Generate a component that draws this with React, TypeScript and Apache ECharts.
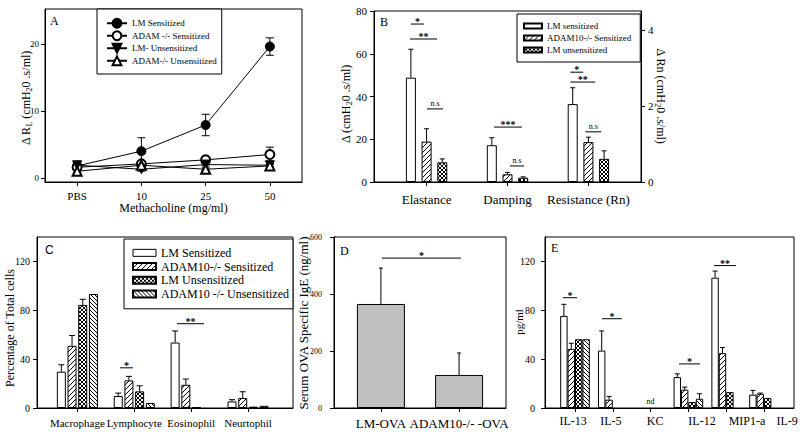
import React, { useEffect, useRef } from 'react';
import * as echarts from 'echarts';

const FONT = 'Liberation Serif';
const INK = '#000';

// ---------- Panel A : airway resistance vs methacholine ----------
const aDoses = ['PBS', '10', '25', '50'];
const aLmSens = [1.8, 4.0, 7.9, 19.6];
const aLmSensErr = [0.3, 2.0, 1.6, 1.3];
const aAdamSens = [1.6, 2.1, 2.7, 3.5];
const aAdamSensErr = [0.2, 0.3, 0.3, 1.1];
const aLmUnsens = [1.9, 1.3, 2.0, 1.9];
const aLmUnsensErr = [0.2, 0.3, 0.2, 0.2];
const aAdamUnsens = [1.0, 1.9, 1.3, 1.8];
const aAdamUnsensErr = [0.2, 0.2, 0.2, 0.2];
const aYTicks = [0, 10, 20];

// ---------- Panel B : lung mechanics ----------
const bMeasures = ['Elastance', 'Damping', 'Resistance (Rn)'];
const bOnRightAxis = [false, false, true];
const bLmSens = [48.8, 17.2, 2.05];
const bLmSensErr = [13.3, 3.5, 0.43];
const bAdamSens = [18.9, 3.6, 1.05];
const bAdamSensErr = [6.0, 0.9, 0.13];
const bLmUnsens = [9.2, 2.0, 0.61];
const bLmUnsensErr = [1.6, 0.4, 0.21];
const bLeftTicks = [0, 20, 40, 60, 80];
const bRightTicks = [0, 2, 4];
const bSigLeft = [
  { x1: -0.193, x2: -0.032, y: 73.9, t: '*' },
  { x1: -0.205, x2: 0.129, y: 66.9, t: '**' },
  { x1: 0.005, x2: 0.203, y: 34.2, t: 'n.s' },
  { x1: 0.833, x2: 1.179, y: 25.7, t: '***' },
  { x1: 1.031, x2: 1.204, y: 7.5, t: 'n.s' },
];
const bSigRight = [
  { x1: 1.776, x2: 1.937, y: 2.89, t: '*' },
  { x1: 1.776, x2: 2.085, y: 2.63, t: '**' },
  { x1: 1.962, x2: 2.16, y: 1.32, t: 'n.s' },
];

// ---------- Panel C : BAL cell differential ----------
const cCells = ['Macrophage', 'Lymphocyte', 'Eosinophil', 'Neurtophil'];
const cLmSens = [29.7, 9.8, 53.6, 5.4];
const cLmSensErr = [5.7, 2.4, 9.5, 1.4];
const cAdamSens = [50.9, 22.6, 19.0, 8.2];
const cAdamSensErr = [8.4, 3.3, 4.7, 5.1];
const cLmUnsens = [84.4, 13.6, 0.8, 1.1];
const cLmUnsensErr = [4.6, 4.6, 0, 0];
const cAdamUnsens = [93.3, 4.1, 0, 1.8];
const cAdamUnsensErr = [0, 0, 0, 0];
const cYTicks = [0, 40, 80, 120];
const cSig = [
  { x1: 0.749, x2: 0.977, y: 32.9, t: '*' },
  { x1: 1.75, x2: 2.225, y: 69, t: '**' },
];

// ---------- Panel D : serum OVA-specific IgE ----------
const dGroups = ['LM-OVA', 'ADAM10-/- -OVA'];
const dIgE = [365, 116];
const dIgEErr = [126, 77];
const dYTicks = [0, 200, 400, 600];
const dSig = [{ x1: 0.014, x2: 1.024, y: 526, t: '*' }];

// ---------- Panel E : BAL cytokines ----------
const eCytokines = ['IL-13', 'IL-5', 'KC', 'IL-12', 'MIP1-a', 'IL-9'];
const eLabelAt = [-0.05, 0.95, 2.12, 3.36, 4.55, 5.61];
const eLmSens = [75.4, 47.0, 0, 25.3, 106.7, 10.9];
const eLmSensErr = [9.5, 16.1, 0, 2.7, 5.4, 3.5];
const eAdamSens = [48.4, 6.8, 0, 15.0, 44.9, 11.7];
const eAdamSensErr = [4.6, 2.7, 0, 2.1, 4.6, 0.5];
const eLmUnsens = [56.3, 0, 0, 4.9, 13.0, 8.2];
const eLmUnsensErr = [0, 0, 0, 0, 0, 0];
const eAdamUnsens = [56.3, 0, 0, 7.6, 0, 0];
const eAdamUnsensErr = [0, 0, 0, 4.1, 0, 0];
const eYTicks = [0, 40, 80, 120];
const eSig = [
  { x1: -0.317, x2: 0.053, y: 90.3, t: '*' },
  { x1: 0.714, x2: 1.243, y: 73.1, t: '*' },
  { x1: 2.751, x2: 3.307, y: 36.1, t: '*' },
  { x1: 3.677, x2: 4.259, y: 116.6, t: '**' },
  { x1: 2.0, x2: 2.0, y: 5.7, t: 'nd', noLine: true },
];

function hatch(kind: string, size: number) {
  const c = document.createElement('canvas');
  c.width = size;
  c.height = size;
  const g = c.getContext('2d')!;
  g.fillStyle = '#fff';
  g.fillRect(0, 0, size, size);
  g.strokeStyle = '#000';
  g.lineWidth = 1;
  const line = (x1: number, y1: number, x2: number, y2: number) => {
    g.beginPath();
    g.moveTo(x1, y1);
    g.lineTo(x2, y2);
    g.stroke();
  };
  if (kind === 'fwd' || kind === 'cross') {
    line(-1, size + 1, size + 1, -1);
    line(-1, 1, 1, -1);
    line(size - 1, size + 1, size + 1, size - 1);
  }
  if (kind === 'back' || kind === 'cross') {
    line(-1, -1, size + 1, size + 1);
    line(size - 1, -1, size + 1, 1);
    line(-1, size - 1, 1, size + 1);
  }
  return { image: c, repeat: 'repeat' };
}

const nearest = (arr: number[], v: number) => {
  let bi = 0;
  arr.forEach((a, i) => {
    if (Math.abs(a - v) < Math.abs(arr[bi] - v)) bi = i;
  });
  return bi;
};

const txt = (size: number) => ({ fontFamily: FONT, fontSize: size, color: INK });

function valueX(gridIndex: number, min: number, max: number, labels: string[], labelAt: number[], tickAt: number[], fontSize: number, margin: number) {
  return {
    gridIndex,
    type: 'value',
    min,
    max,
    splitLine: { show: false },
    axisLine: { show: true, onZero: false, lineStyle: { color: INK, width: 1 } },
    axisTick: { show: true, length: 4, lineStyle: { color: INK }, customValues: tickAt },
    axisLabel: {
      ...txt(fontSize),
      margin,
      hideOverlap: false,
      customValues: labelAt,
      formatter: (v: number) => labels[nearest(labelAt, v)],
    },
  };
}

function valueY(gridIndex: number, min: number, max: number, ticks: number[], fontSize: number, margin: number, extra?: any) {
  return {
    gridIndex,
    type: 'value',
    min,
    max,
    splitLine: { show: false },
    axisLine: { show: true, onZero: false, lineStyle: { color: INK, width: 1 } },
    axisTick: { show: true, length: 4, lineStyle: { color: INK }, customValues: ticks },
    axisLabel: { ...txt(fontSize), margin, customValues: ticks },
    ...(extra || {}),
  };
}

function bars(name: string, xi: number, yi: number, values: number[], slot: number, nSlots: number, pitch: number, width: number, color: any, keep?: (i: number) => boolean) {
  const data: number[][] = [];
  values.forEach((v, i) => {
    if (v > 0 && (!keep || keep(i))) data.push([i + (slot - (nSlots - 1) / 2) * pitch, v]);
  });
  return {
    type: 'bar',
    name,
    xAxisIndex: xi,
    yAxisIndex: yi,
    data,
    barWidth: width,
    barGap: '-100%',
    silent: true,
    z: 2,
    itemStyle: { color, borderColor: INK, borderWidth: 1 },
  };
}

function errors(xi: number, yi: number, values: number[], errs: number[], cap: number, both: boolean, xOf: (i: number) => number, keep?: (i: number) => boolean) {
  const data: number[][] = [];
  values.forEach((v, i) => {
    if (errs[i] > 0 && (!keep || keep(i))) data.push([xOf(i), v, errs[i]]);
  });
  return {
    type: 'custom',
    xAxisIndex: xi,
    yAxisIndex: yi,
    silent: true,
    z: 1,
    data,
    renderItem: (_p: any, api: any) => {
      const x = api.value(0);
      const v = api.value(1);
      const e = api.value(2);
      const top = api.coord([x, v + e]);
      const bot = api.coord([x, both ? v - e : v]);
      const st = { stroke: INK, lineWidth: 1 };
      const children: any[] = [
        { type: 'line', shape: { x1: top[0], y1: top[1], x2: bot[0], y2: bot[1] }, style: st },
        { type: 'line', shape: { x1: top[0] - cap, y1: top[1], x2: top[0] + cap, y2: top[1] }, style: st },
      ];
      if (both) children.push({ type: 'line', shape: { x1: bot[0] - cap, y1: bot[1], x2: bot[0] + cap, y2: bot[1] }, style: st });
      return { type: 'group', children };
    },
  };
}

function sigs(xi: number, yi: number, items: any[]) {
  return {
    type: 'custom',
    xAxisIndex: xi,
    yAxisIndex: yi,
    silent: true,
    z: 5,
    data: items.map((s) => [s.x1, s.y, s.x2]),
    renderItem: (p: any, api: any) => {
      const s = items[p.dataIndex];
      const a = api.coord([s.x1, s.y]);
      const b = api.coord([s.x2, s.y]);
      const star = s.t.indexOf('*') >= 0;
      const children: any[] = [];
      if (!s.noLine) children.push({ type: 'line', shape: { x1: a[0], y1: a[1], x2: b[0], y2: b[1] }, style: { stroke: INK, lineWidth: 1 } });
      children.push({
        type: 'text',
        x: (a[0] + b[0]) / 2,
        y: s.noLine ? a[1] : star ? a[1] - 2.2 : a[1] - 1,
        style: {
          text: s.t,
          fontFamily: FONT,
          fontSize: star ? 10 : 8,
          fontWeight: star ? 'bold' : 'normal',
          fill: INK,
          align: 'center',
          verticalAlign: star || s.noLine ? 'middle' : 'bottom',
        },
      });
      return { type: 'group', children };
    },
  };
}

// rotated axis title (with optional subscript tokens {s|..})
function axisTitle(text: string, x: number, y: number, rotation: number, size: number) {
  return {
    type: 'text',
    x,
    y,
    rotation,
    silent: true,
    z: 10,
    style: {
      text,
      fontFamily: FONT,
      fontSize: size,
      fill: INK,
      align: 'center',
      verticalAlign: 'middle',
      rich: {
        n: { fontFamily: FONT, fontSize: size, fill: INK },
        s: { fontFamily: FONT, fontSize: size - 4, fill: INK, padding: [7, 0, 0, 0] },
      },
    },
  };
}

function buildOption() {
  const fwd = hatch('fwd', 5);
  const cross = hatch('cross', 4);
  const back = hatch('back', 4);
  const white = '#fff';

  const grids = [
    { left: 45, top: 9, width: 257, height: 173 },
    { left: 374, top: 11, width: 267, height: 171 },
    { left: 37, top: 237, width: 256, height: 171 },
    { left: 334, top: 237, width: 172, height: 171 },
    { left: 545, top: 237, width: 249, height: 171 },
  ].map((g) => ({ ...g, show: true, borderColor: INK, borderWidth: 1, containLabel: false, outerBoundsMode: 'none' }));

  const bPitch = 0.194;
  const cPitch = 0.188;
  const ePitch = 0.196;
  const left = (i: number) => !bOnRightAxis[i];
  const right = (i: number) => bOnRightAxis[i];
  const slotX = (slot: number, n: number, pitch: number) => (i: number) => i + (slot - (n - 1) / 2) * pitch;

  const xAxis: any[] = [
    {
      gridIndex: 0,
      type: 'category',
      data: aDoses,
      boundaryGap: true,
      axisLine: { show: true, onZero: false, lineStyle: { color: INK } },
      axisTick: { show: true, alignWithLabel: true, length: 4, lineStyle: { color: INK } },
      axisLabel: { ...txt(11), margin: 8, interval: 0 },
      splitLine: { show: false },
      name: 'Methacholine (mg/ml)',
      nameLocation: 'middle',
      nameMoveOverlap: false,
      nameGap: 20,
      nameTextStyle: txt(12),
    },
    valueX(1, -0.65, 2.65, bMeasures, [0, 1, 2], [0, 1, 2], 13, 11),
    valueX(2, -0.71, 3.79, cCells, [0, 1, 2, 3], [0, 1, 2, 3], 11, 9),
    valueX(3, -0.6, 1.6, dGroups, [0, 1], [0, 1], 13, 9),
    valueX(4, -0.794, 5.794, eCytokines, eLabelAt, [0, 1, 2, 3, 4, 5], 12, 7),
  ];

  const yAxis: any[] = [
    valueY(0, -0.6, 25.2, aYTicks, 9, 6),
    valueY(1, 0, 80, bLeftTicks, 11, 7),
    valueY(1, 0, 4.5, bRightTicks, 11, 7, { position: 'right' }),
    valueY(2, 0, 140, cYTicks, 10, 7),
    valueY(3, 0, 600, dYTicks, 8, 12),
    valueY(4, 0, 140, eYTicks, 10, 10),
  ];

  const lineSeries = (name: string, data: number[], symbol: string) => ({
    type: 'line',
    name,
    xAxisIndex: 0,
    yAxisIndex: 0,
    data,
    symbol,
    symbolSize: 9,
    silent: true,
    z: 3,
    lineStyle: { color: INK, width: 1 },
    itemStyle: { color: INK, borderColor: INK, borderWidth: 1 },
  });

  const series: any[] = [
    // A
    lineSeries('LM Sensitized', aLmSens, 'circle'),
    lineSeries('ADAM -/- Sensitized', aAdamSens, 'emptyCircle'),
    lineSeries('LM- Unsensitized', aLmUnsens, 'path://M0,0L10,0L5,9Z'),
    lineSeries('ADAM-/- Unsensitized', aAdamUnsens, 'emptyTriangle'),
    errors(0, 0, aLmSens, aLmSensErr, 4, true, (i) => i),
    errors(0, 0, aAdamSens, aAdamSensErr, 4, true, (i) => i),
    errors(0, 0, aLmUnsens, aLmUnsensErr, 4, true, (i) => i),
    errors(0, 0, aAdamUnsens, aAdamUnsensErr, 4, true, (i) => i),

    // B
    bars('LM sensitized', 1, 1, bLmSens, 0, 3, bPitch, 10, white, left),
    bars('ADAM10-/- Sensitized', 1, 1, bAdamSens, 1, 3, bPitch, 10, fwd, left),
    bars('LM unsensitized', 1, 1, bLmUnsens, 2, 3, bPitch, 10, cross, left),
    bars('LM sensitized', 1, 2, bLmSens, 0, 3, bPitch, 10, white, right),
    bars('ADAM10-/- Sensitized', 1, 2, bAdamSens, 1, 3, bPitch, 10, fwd, right),
    bars('LM unsensitized', 1, 2, bLmUnsens, 2, 3, bPitch, 10, cross, right),
    errors(1, 1, bLmSens, bLmSensErr, 2.5, false, slotX(0, 3, bPitch), left),
    errors(1, 1, bAdamSens, bAdamSensErr, 2.5, false, slotX(1, 3, bPitch), left),
    errors(1, 1, bLmUnsens, bLmUnsensErr, 2.5, false, slotX(2, 3, bPitch), left),
    errors(1, 2, bLmSens, bLmSensErr, 2.5, false, slotX(0, 3, bPitch), right),
    errors(1, 2, bAdamSens, bAdamSensErr, 2.5, false, slotX(1, 3, bPitch), right),
    errors(1, 2, bLmUnsens, bLmUnsensErr, 2.5, false, slotX(2, 3, bPitch), right),
    sigs(1, 1, bSigLeft),
    sigs(1, 2, bSigRight),

    // C
    bars('LM Sensitized', 2, 3, cLmSens, 0, 4, cPitch, 9, white),
    bars('ADAM10-/- Sensitized', 2, 3, cAdamSens, 1, 4, cPitch, 9, fwd),
    bars('LM Unsensitized', 2, 3, cLmUnsens, 2, 4, cPitch, 9, cross),
    bars('ADAM10 -/- Unsensitized', 2, 3, cAdamUnsens, 3, 4, cPitch, 9, back),
    errors(2, 3, cLmSens, cLmSensErr, 3, false, slotX(0, 4, cPitch)),
    errors(2, 3, cAdamSens, cAdamSensErr, 3, false, slotX(1, 4, cPitch)),
    errors(2, 3, cLmUnsens, cLmUnsensErr, 3, false, slotX(2, 4, cPitch)),
    errors(2, 3, cAdamUnsens, cAdamUnsensErr, 3, false, slotX(3, 4, cPitch)),
    sigs(2, 3, cSig),

    // D
    bars('Serum OVA Specific IgE', 3, 4, dIgE, 0, 1, 0, 48, '#c0c0c0'),
    errors(3, 4, dIgE, dIgEErr, 2, false, (i) => i),
    sigs(3, 4, dSig),

    // E
    bars('LM Sensitized', 4, 5, eLmSens, 0, 4, ePitch, 7.4, white),
    bars('ADAM10-/- Sensitized', 4, 5, eAdamSens, 1, 4, ePitch, 7.4, fwd),
    bars('LM Unsensitized', 4, 5, eLmUnsens, 2, 4, ePitch, 7.4, cross),
    bars('ADAM10 -/- Unsensitized', 4, 5, eAdamUnsens, 3, 4, ePitch, 7.4, back),
    errors(4, 5, eLmSens, eLmSensErr, 2.5, false, slotX(0, 4, ePitch)),
    errors(4, 5, eAdamSens, eAdamSensErr, 2.5, false, slotX(1, 4, ePitch)),
    errors(4, 5, eLmUnsens, eLmUnsensErr, 2.5, false, slotX(2, 4, ePitch)),
    errors(4, 5, eAdamUnsens, eAdamUnsensErr, 2.5, false, slotX(3, 4, ePitch)),
    sigs(4, 5, eSig),
  ];

  const legendBase = {
    orient: 'vertical',
    selectedMode: false,
    borderColor: INK,
    borderWidth: 1,
    borderRadius: 0,
    backgroundColor: '#fff',
    itemGap: 0,
  };

  const legend: any[] = [
    {
      ...legendBase,
      left: 97,
      top: 9,
      itemWidth: 20,
      itemHeight: 11,
      padding: [8, 5, 7, 9],
      textStyle: { ...txt(9), lineHeight: 12.5 },
      data: ['LM Sensitized', 'ADAM -/- Sensitized', 'LM- Unsensitized', 'ADAM-/- Unsensitized'],
    },
    {
      ...legendBase,
      left: 517,
      top: 14,
      icon: 'rect',
      itemWidth: 18,
      itemHeight: 5,
      padding: [6, 9, 6, 6],
      textStyle: { ...txt(9), lineHeight: 12 },
      data: ['LM sensitized', 'ADAM10-/- Sensitized', 'LM unsensitized'],
    },
    {
      ...legendBase,
      left: 124,
      top: 239,
      icon: 'rect',
      itemWidth: 23,
      itemHeight: 7,
      padding: [7, 4, 8, 8],
      textStyle: { ...txt(12), lineHeight: 13.7 },
      data: [
        { name: 'LM Sensitized', icon: 'rect', itemStyle: { color: '#fff', borderColor: INK, borderWidth: 1 } },
        'ADAM10-/- Sensitized',
        'LM Unsensitized',
        'ADAM10 -/- Unsensitized',
      ],
    },
  ];

  const letter = (t: string, x: number, y: number, family: string) => ({
    type: 'text',
    x,
    y,
    silent: true,
    z: 10,
    style: { text: t, fontFamily: family, fontSize: 12, fill: INK },
  });

  const up = Math.PI / 2;

  return {
    animation: false,
    backgroundColor: '#fff',
    textStyle: { fontFamily: FONT },
    grid: grids,
    xAxis,
    yAxis,
    legend,
    series,
    graphic: [
      letter('A', 50, 15, FONT),
      letter('B', 380, 16, FONT),
      letter('C', 45, 244, 'Liberation Sans'),
      letter('D', 340, 245, FONT),
      letter('E', 551, 242, FONT),
      axisTitle('{n|Δ R}{s|L}{n| (cmH}{s|2}{n|0 .s/ml)}', 26, 98, up, 12),
      axisTitle('{n|Δ (cmH}{s|2}{n|0 .s/ml)}', 346, 104, up, 12),
      axisTitle('{n|Δ Rn (cmH}{s|2}{n|0 .s/ml)}', 661, 96, -up, 12),
      axisTitle('Percentage of Total cells', 10, 328, up, 12),
      axisTitle('Serum OVA Specific IgE (ng/ml)', 303, 323, up, 13),
      axisTitle('pg/ml', 519, 322, up, 11),
    ],
  };
}

export default function App() {
  const ref = useRef<HTMLDivElement>(null);
  useEffect(() => {
    const chart = echarts.init(ref.current!, null, { renderer: 'svg' });
    chart.setOption(buildOption() as any);
    return () => chart.dispose();
  }, []);
  return (
    <div
      ref={ref}
      style={{ position: 'fixed', left: 0, top: 0, width: 800, height: 434, background: '#fff' }}
    />
  );
}
